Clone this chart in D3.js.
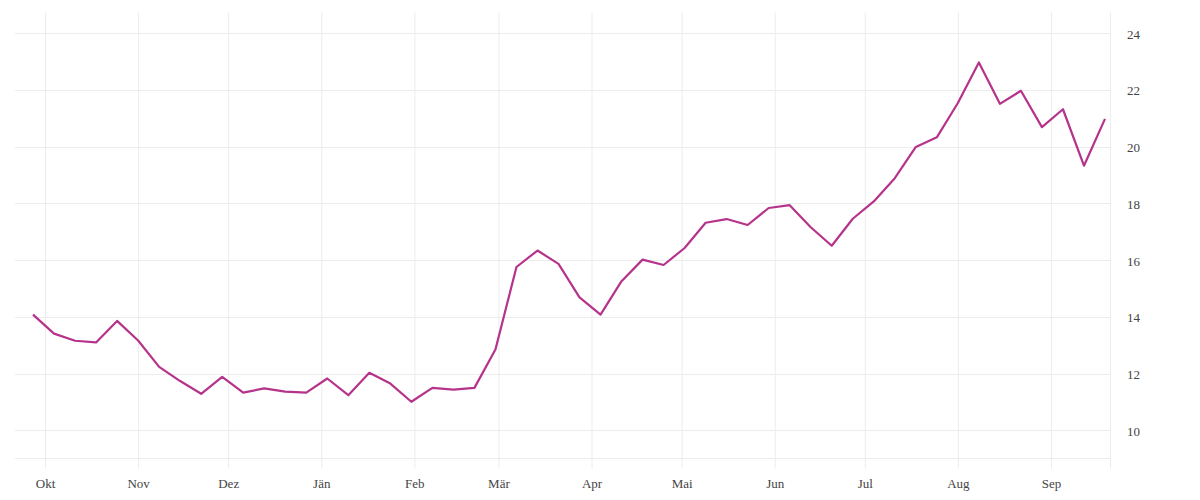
<!DOCTYPE html>
<html>
<head>
<meta charset="utf-8">
<script src="https://cdn.jsdelivr.net/npm/d3@7"></script>
<style>
  html, body { margin: 0; padding: 0; background: #fff; }
  svg { display: block; }
  .tick text { font-family: "Liberation Serif", "DejaVu Serif", serif; font-size: 13px; fill: #444; }
</style>
</head>
<body>
<svg id="chart" width="1200" height="500"></svg>
<script>
// Weekly series starting 2021-09-27
const startDate = "2021-09-27";
const values = [
  14.08, 13.41, 13.16, 13.10, 13.86, 13.17, 12.24, 11.74, 11.29, 11.89,
  11.33, 11.48, 11.37, 11.33, 11.83, 11.24, 12.03, 11.65, 11.01, 11.50,
  11.44, 11.50, 12.85, 15.76, 16.34, 15.87, 14.69, 14.08, 15.26, 16.02,
  15.83, 16.43, 17.32, 17.45, 17.24, 17.84, 17.94, 17.16, 16.51, 17.46,
  18.07, 18.89, 19.99, 20.33, 21.54, 22.97, 21.51, 21.97, 20.69, 21.32,
  19.33, 20.98
];
const monthLabels = ["Jän","Feb","Mär","Apr","Mai","Jun","Jul","Aug","Sep","Okt","Nov","Dez"];
const yTicks = [10, 12, 14, 16, 18, 20, 22, 24];
const xDomain = ["2021-09-21", "2022-09-21"];
const yDomain = [9.01, 24.73];

(function () {
const parse = d3.utcParse("%Y-%m-%d");
const start = parse(startDate);
const data = values.map((v, i) => ({ date: d3.utcDay.offset(start, i * 7), value: v }));

const svg = d3.select("#chart");
const mLeft = 15, mRight = 1111, mTop = 12.5, mBottom = 458.5;

const x = d3.scaleUtc().domain(xDomain.map(parse)).range([mLeft, mRight]);
const y = d3.scaleLinear().domain(yDomain).range([mBottom, mTop]);

const grid = "#ececec";

// horizontal gridlines
svg.append("g")
  .selectAll("line")
  .data(yTicks)
  .join("line")
  .attr("x1", mLeft).attr("x2", mRight)
  .attr("y1", d => Math.round(y(d)) + 0.5).attr("y2", d => Math.round(y(d)) + 0.5)
  .attr("stroke", grid).attr("stroke-width", 1);

// bottom baseline
svg.append("line")
  .attr("x1", mLeft).attr("x2", mRight)
  .attr("y1", mBottom).attr("y2", mBottom)
  .attr("stroke", grid).attr("stroke-width", 1);

// right border
svg.append("line")
  .attr("x1", mRight - 0.5).attr("x2", mRight - 0.5)
  .attr("y1", mTop).attr("y2", mBottom + 10)
  .attr("stroke", grid).attr("stroke-width", 1);

// x axis (month ticks as gridlines)
const monthTicks = d3.utcMonth.range(parse("2021-10-01"), parse("2022-09-02"));
const xAxis = d3.axisBottom(x)
  .tickValues(monthTicks)
  .tickFormat(d => monthLabels[d.getUTCMonth()])
  .tickSize(mBottom + 10 - mTop)
  .tickPadding(8);
const gx = svg.append("g")
  .attr("transform", `translate(0,${mTop})`)
  .call(xAxis);
gx.select(".domain").remove();
gx.selectAll(".tick line").attr("stroke", grid);
gx.selectAll(".tick text").attr("dy", "0.9em");

// y axis labels on right
const yAxis = d3.axisRight(y)
  .tickValues(yTicks)
  .tickSize(0)
  .tickPadding(0)
  .tickFormat(d3.format("d"));
const gy = svg.append("g")
  .attr("transform", `translate(1127,0)`)
  .call(yAxis);
gy.select(".domain").remove();
gy.selectAll(".tick text").attr("dy", "0.38em");

// line
const line = d3.line()
  .x(d => x(d.date))
  .y(d => y(d.value));
svg.append("path")
  .datum(data)
  .attr("fill", "none")
  .attr("stroke", "#b5338a")
  .attr("stroke-width", 2.2)
  .attr("stroke-linejoin", "round")
  .attr("d", line);
})();
</script>
</body>
</html>
